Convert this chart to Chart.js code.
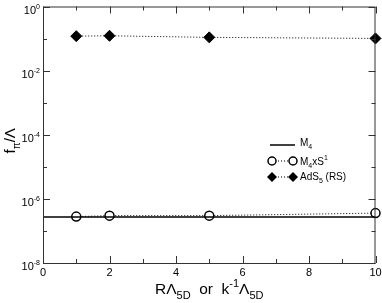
<!DOCTYPE html>
<html>
<head>
<meta charset="utf-8">
<script src="https://cdn.jsdelivr.net/npm/chart.js@4.4.0/dist/chart.umd.min.js"></script>
<style>
  html, body { margin: 0; padding: 0; background: #fff; }
  #wrap { width: 382px; height: 303px; }
</style>
</head>
<body>
<div id="wrap"><canvas id="c" width="382" height="303"></canvas></div>
<script>
// data
const xVals = [1, 2, 5, 10];
const m4x = [0, 10];
const m4Vals = [2.7e-7, 2.7e-7];
const m4s1Vals = [2.8e-7, 3.0e-7, 3.0e-7, 3.6e-7];
const adsVals = [0.119, 0.122, 0.109, 0.101];

const xTickLabels = ['0', '2', '4', '6', '8', '10'];
const yTickExps = [0, -2, -4, -6, -8];

const FONT = '"Liberation Sans", Arial, sans-serif';
const AXIS_COLOR = '#333';

function pts(xs, ys) {
  return xs.map((x, i) => ({ x: x, y: ys[i] }));
}

// draw text with sub / superscripts. segs: [{t, sub, sup}]
function richText(ctx, segs, x, y, size, align) {
  const small = Math.round(size * 0.68);
  let total = 0;
  segs.forEach(s => {
    ctx.font = (s.sub || s.sup ? small : size) + 'px ' + FONT;
    s.w = ctx.measureText(s.t).width;
    total += s.w;
  });
  let cx = x;
  if (align === 'right') cx = x - total;
  else if (align === 'center') cx = x - total / 2;
  ctx.textAlign = 'left';
  ctx.textBaseline = 'alphabetic';
  segs.forEach(s => {
    ctx.font = (s.sub || s.sup ? small : size) + 'px ' + FONT;
    let dy = 0;
    if (s.sub) dy = size * 0.3;
    if (s.sup) dy = -size * 0.45;
    ctx.fillText(s.t, cx, y + dy);
    cx += s.w;
  });
  return total;
}

const framePlugin = {
  id: 'frame',
  afterDraw(chart) {
    const ctx = chart.ctx;
    const a = chart.chartArea;
    const xs = chart.scales.x;
    const ys = chart.scales.y;
    ctx.save();
    ctx.strokeStyle = AXIS_COLOR;
    ctx.lineWidth = 1;
    ctx.strokeRect(a.left + 0.5, a.top + 0.5, a.right - a.left - 1, a.bottom - a.top);

    ctx.beginPath();
    // x ticks, inward on bottom and top
    for (let v = 0; v <= 10; v++) {
      const px = Math.round(xs.getPixelForValue(v)) + 0.5;
      const len = v % 2 === 0 ? 7 : 4;
      ctx.moveTo(px, a.bottom); ctx.lineTo(px, a.bottom - len);
      ctx.moveTo(px, a.top); ctx.lineTo(px, a.top + len);
    }
    // y ticks, decades
    for (let e = 0; e >= -8; e--) {
      const py = Math.round(ys.getPixelForValue(Math.pow(10, e))) + 0.5;
      const len = e % 2 === 0 ? 7 : 4;
      ctx.moveTo(a.left, py); ctx.lineTo(a.left + len, py);
      ctx.moveTo(a.right, py); ctx.lineTo(a.right - len, py);
    }
    ctx.stroke();

    ctx.fillStyle = '#000';
    // x tick labels
    ctx.font = '11px ' + FONT;
    ctx.textAlign = 'center';
    ctx.textBaseline = 'middle';
    xTickLabels.forEach(t => {
      ctx.fillText(t, xs.getPixelForValue(Number(t)), a.bottom + 10);
    });
    // y tick labels 10^e
    yTickExps.forEach(e => {
      const py = ys.getPixelForValue(Math.pow(10, e));
      richText(ctx, [{ t: '10' }, { t: String(e), sup: true }], 40, py + 7, 11, 'right');
    });

    // axis titles
    richText(ctx, [
      { t: 'R\u039B' }, { t: '5D', sub: true },
      { t: '  or  k' }, { t: '-1', sup: true },
      { t: '\u039B' }, { t: '5D', sub: true }
    ], (a.left + a.right) / 2, a.bottom + 31, 15.5, 'center');

    ctx.save();
    ctx.translate(15, (a.top + a.bottom) / 2 + 6);
    ctx.rotate(-Math.PI / 2);
    richText(ctx, [{ t: 'f' }, { t: '\u03C0', sub: true }, { t: '/\u039B' }], 0, 0, 15, 'center');
    ctx.restore();

    // legend
    const lx1 = 272, lx2 = 293, tx = 300;
    const rows = [145, 161, 177];
    // M4
    ctx.strokeStyle = '#000';
    ctx.lineWidth = 1.5;
    ctx.beginPath(); ctx.moveTo(lx1 - 2, rows[0]); ctx.lineTo(lx2 + 2, rows[0]); ctx.stroke();
    // dotted lines
    ctx.lineWidth = 1;
    ctx.setLineDash([1, 2]);
    ctx.beginPath();
    ctx.moveTo(lx1, rows[1]); ctx.lineTo(lx2, rows[1]);
    ctx.moveTo(lx1, rows[2]); ctx.lineTo(lx2, rows[2]);
    ctx.stroke();
    ctx.setLineDash([]);
    // circles
    ctx.lineWidth = 1.5;
    [lx1, lx2].forEach(px => {
      ctx.beginPath(); ctx.arc(px, rows[1], 4, 0, Math.PI * 2);
      ctx.fillStyle = '#fff'; ctx.fill(); ctx.stroke();
    });
    // diamonds
    ctx.fillStyle = '#000';
    [lx1, lx2].forEach(px => {
      ctx.beginPath();
      ctx.moveTo(px, rows[2] - 5); ctx.lineTo(px + 5, rows[2]);
      ctx.lineTo(px, rows[2] + 5); ctx.lineTo(px - 5, rows[2]);
      ctx.closePath(); ctx.fill();
    });
    richText(ctx, [{ t: 'M' }, { t: '4', sub: true }], tx, rows[0] + 1, 10, 'left');
    richText(ctx, [{ t: 'M' }, { t: '4', sub: true }, { t: 'xS' }, { t: '1', sup: true }], tx, rows[1] + 3.5, 10, 'left');
    richText(ctx, [{ t: 'AdS' }, { t: '5', sub: true }, { t: ' (RS)' }], tx, rows[2] + 3, 10, 'left');
    ctx.restore();
  }
};

new Chart(document.getElementById('c'), {
  type: 'scatter',
  data: {
    datasets: [
      {
        label: 'M4',
        data: pts(m4x, m4Vals),
        showLine: true,
        borderColor: '#000',
        borderWidth: 1.5,
        pointRadius: 0,
        clip: false
      },
      {
        label: 'M4xS1',
        data: pts(xVals, m4s1Vals),
        showLine: true,
        borderColor: '#000',
        borderWidth: 1,
        borderDash: [1, 2],
        pointStyle: 'circle',
        pointRadius: 4.5,
        pointBorderWidth: 1.5,
        pointBackgroundColor: '#fff',
        pointBorderColor: '#000',
        clip: false
      },
      {
        label: 'AdS5 (RS)',
        data: pts(xVals, adsVals),
        showLine: true,
        borderColor: '#000',
        borderWidth: 1,
        borderDash: [1, 2],
        pointStyle: 'rectRot',
        pointRadius: 5.5,
        pointBackgroundColor: '#000',
        pointBorderColor: '#000',
        clip: false
      }
    ]
  },
  options: {
    responsive: false,
    animation: false,
    layout: { padding: { left: 43, right: 6, top: 6, bottom: 40 } },
    scales: {
      x: { type: 'linear', min: 0, max: 10, display: false },
      y: { type: 'logarithmic', min: 1e-8, max: 1, display: false }
    },
    plugins: {
      legend: { display: false },
      tooltip: { enabled: false }
    }
  },
  plugins: [framePlugin]
});
</script>
</body>
</html>
